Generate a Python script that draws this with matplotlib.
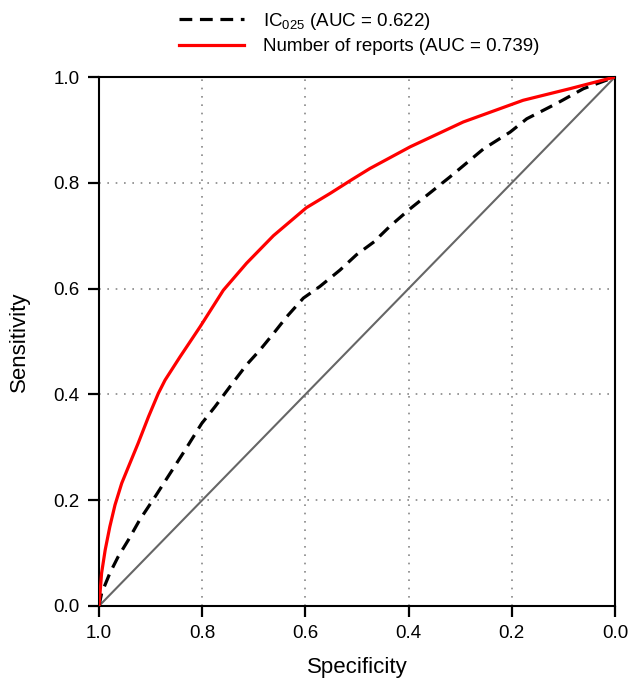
import matplotlib
matplotlib.use("Agg")
import matplotlib.pyplot as plt

plt.rcParams['font.family'] = ['Liberation Sans', 'DejaVu Sans']
plt.rcParams['mathtext.fontset'] = 'custom'
plt.rcParams['mathtext.rm'] = 'Liberation Sans'
plt.rcParams['mathtext.it'] = 'Liberation Sans'

# Data (specificity, sensitivity)
spec_reports = [1.0, 0.998, 0.995, 0.988, 0.979, 0.969, 0.956, 0.943, 0.924, 0.904,
                0.885, 0.872, 0.843, 0.804, 0.759, 0.714, 0.662, 0.598, 0.552, 0.510,
                0.475, 0.397, 0.294, 0.178, 0.087, 0.0]
sens_reports = [0.0, 0.024, 0.062, 0.106, 0.150, 0.191, 0.232, 0.263, 0.308, 0.358,
                0.402, 0.427, 0.471, 0.528, 0.597, 0.648, 0.700, 0.753, 0.780, 0.806,
                0.827, 0.868, 0.915, 0.956, 0.978, 1.0]

spec_ic = [1.0, 0.995, 0.979, 0.963, 0.943, 0.921, 0.891, 0.862, 0.833, 0.801,
           0.775, 0.746, 0.714, 0.688, 0.662, 0.636, 0.604, 0.572, 0.533, 0.501,
           0.462, 0.455, 0.436, 0.397, 0.320, 0.255, 0.203, 0.171, 0.113, 0.061, 0.0]
sens_ic = [0.0, 0.024, 0.062, 0.093, 0.125, 0.163, 0.207, 0.251, 0.295, 0.345,
           0.377, 0.415, 0.456, 0.484, 0.515, 0.547, 0.582, 0.604, 0.635, 0.664,
           0.692, 0.700, 0.718, 0.751, 0.811, 0.864, 0.896, 0.921, 0.950, 0.978, 1.0]

label_ic = 'IC$_{025}$ (AUC = 0.622)'
label_reports = 'Number of reports (AUC = 0.739)'
ticks = [0.0, 0.2, 0.4, 0.6, 0.8, 1.0]
tick_labels = ['0.0', '0.2', '0.4', '0.6', '0.8', '1.0']

fig = plt.figure(figsize=(6.29, 6.78), dpi=100)
ax = fig.add_axes([99/629, 72/678, 516/629, 529/678])

ax.plot([1.0, 0.0], [0.0, 1.0], color='#666666', lw=1.5, zorder=2)
l1, = ax.plot(spec_ic, sens_ic, color='black', lw=2.3, dashes=(4, 2.4), zorder=3)
l2, = ax.plot(spec_reports, sens_reports, color='#ff0000', lw=2.3, zorder=4)

ax.set_xlim(1.0, 0.0)
ax.set_ylim(0.0, 1.0)
ax.set_xticks(ticks)
ax.set_xticklabels(tick_labels)
ax.set_yticks(ticks)
ax.set_yticklabels(tick_labels)
ax.tick_params(direction='out', length=8, width=1.6, labelsize=13.5, pad=6)
ax.grid(True, color='#888888', linestyle=(0, (1, 4)), lw=1.2)
for s in ax.spines.values():
    s.set_linewidth(1.5)

ax.set_xlabel('Specificity', fontsize=16)
ax.set_ylabel('Sensitivity', fontsize=16)
ax.xaxis.set_label_coords(0.5, (606 - 657) / 529)
ax.yaxis.set_label_coords((30 - 99) / 516, 0.5)

fig.legend([l1, l2], [label_ic, label_reports], loc='center',
           bbox_to_anchor=(359/629, 1 - 33/678), frameon=False, fontsize=13.5,
           handlelength=3.5, handletextpad=1.0, labelspacing=0.35)

fig.savefig('out.png', dpi=100)
